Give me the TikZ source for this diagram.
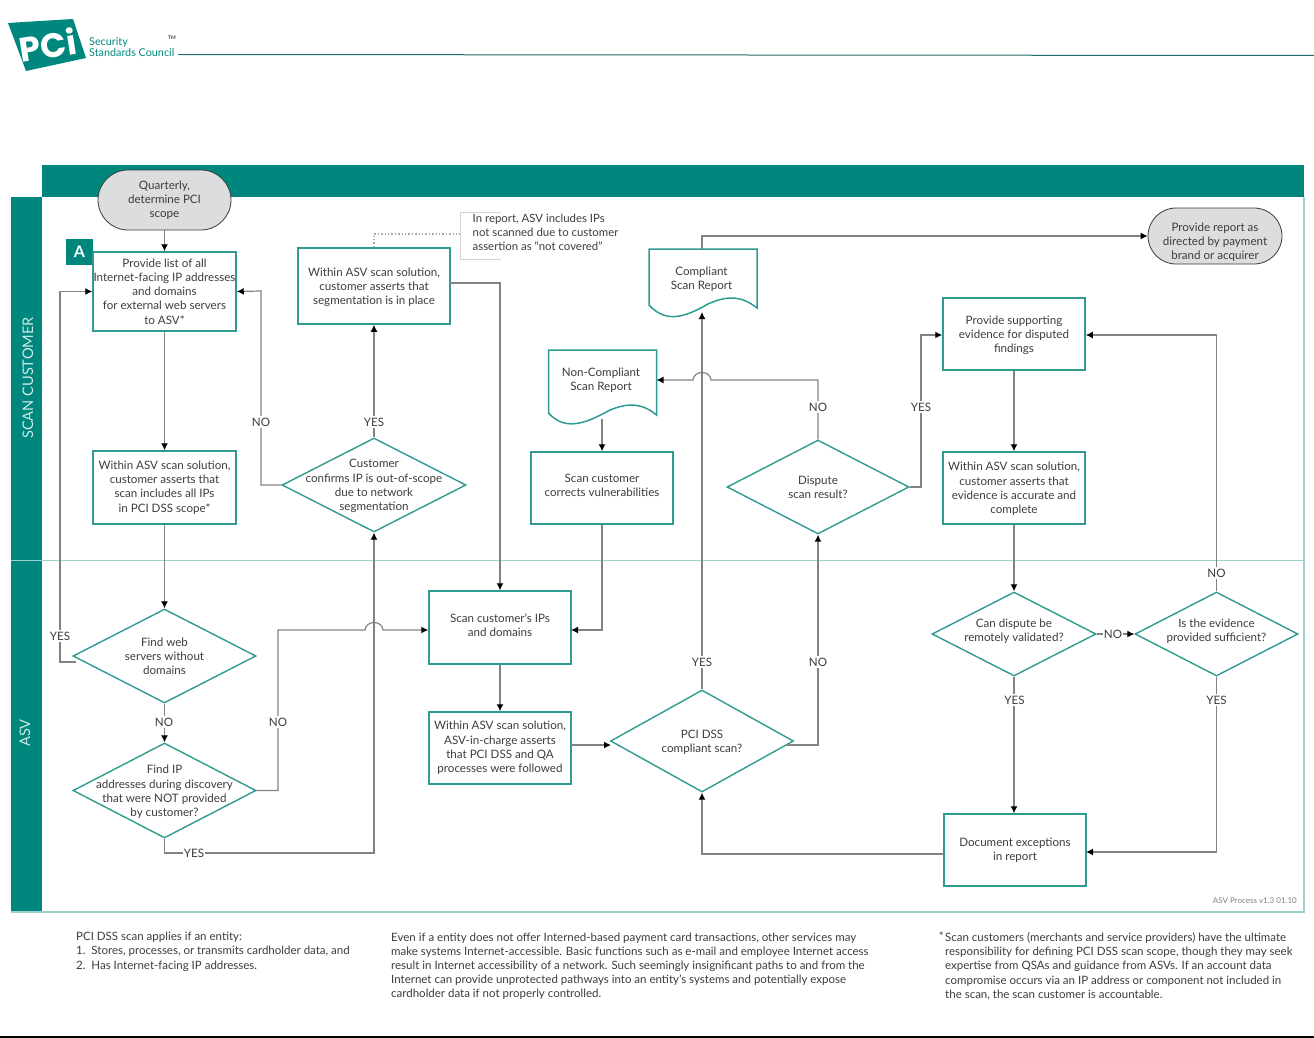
\documentclass[tikz,border=0pt]{standalone}
\usepackage{fontspec}
\setmainfont{Lato}
\newfontfamily\logofont{Poppins}
\usetikzlibrary{shapes.geometric,shapes.misc,calc,arrows.meta}
\definecolor{tealband}{HTML}{00877D}
\definecolor{boxline}{HTML}{2F9A92}
\definecolor{paleline}{HTML}{9AD3CD}
\definecolor{flow}{HTML}{828282}
\definecolor{ink}{HTML}{3C3C3C}
\definecolor{termfill}{HTML}{DCDDDE}
\tikzset{
  x=1pt,y=-1pt,
  every node/.style={font=\fontsize{11.6}{14.2}\selectfont,text=ink,align=center,inner sep=0pt},
  every label/.style={font=\fontsize{11.6}{14.2}\selectfont,text=ink,align=center,inner sep=0pt},
  stepbox/.style={draw=boxline,line width=1.5pt,rectangle},
  dia/.style={draw=boxline,line width=1.4pt,diamond,aspect=1.9,inner sep=0pt},
  term/.style={draw=ink,line width=.8pt,fill=termfill,rounded rectangle},
  flowline/.style={draw=flow,line width=1.2pt,-{Latex[length=7pt,width=7pt,black]}},
  yn/.style={fill=white,inner ysep=1.5pt,inner xsep=.5pt},
  docline/.style={draw=boxline,line width=1.5pt},
  footnote/.style={align=left,anchor=north west,font=\fontsize{11.5}{14.3}\selectfont},
}
\newcommand{\rbox}[7][0pt]{\node[stepbox,minimum width=#5-#4,minimum height=#7-#6,label={[yshift=#1]center:#3}] (#2) at ({(#4+#5)/2},{(#6+#7)/2}) {};}
\newcommand{\dbox}[7][0pt]{\node[dia,minimum width=#6,minimum height=#7,label={[yshift=#1]center:#3}] (#2) at (#4,#5) {};}
\begin{document}
\begin{tikzpicture}
\useasboundingbox (0,0) rectangle (1314,1038);
% header
\draw[boxline!70!black,line width=1pt] (178,54.5) -- (1314,55.5);
\fill[tealband] (8,23) -- (73,19) -- (86,58) -- (26,71) -- cycle;
\node[font=\logofont\bfseries\fontsize{34}{34}\selectfont,text=white,rotate=9] (logo) at (48,45) {PCi};
\node[font=\fontsize{10.8}{10.6}\selectfont,text=tealband,align=left,anchor=west] (brand) at (89,47) {Security\\Standards Council};
\node[font=\bfseries\fontsize{5}{5}\selectfont,text=ink] (tm) at (172,38) {TM};
% frame
\fill[tealband] (42,165) rectangle (1304,197);
\fill[tealband] (11,197) rectangle (42,912);
\draw[paleline,line width=1.4pt] (1304,197) -- (1304,912) -- (11,912);
\draw[paleline,line width=1pt] (11,560) -- (1304,560);
\node[rotate=90,font=\fontsize{14.6}{18}\selectfont,text=paleline!50!white] (lanea) at (28,378) {SCAN CUSTOMER};
\node[rotate=90,font=\fontsize{14.6}{18}\selectfont,text=paleline!50!white] (laneb) at (25,733) {ASV};
% A tag
\node[fill=tealband,text=white,font=\bfseries\fontsize{16}{16}\selectfont,minimum width=27,minimum height=26] (tag) at (79.5,252) {A};
% terminators
\node[term,minimum width=133,minimum height=60,label={[yshift=-.5pt]center:Quarterly,\\determine PCI\\scope}] (start) at (164.5,200) {};
\node[term,minimum width=134,minimum height=56,label={[yshift=-6pt]center:Provide report as\\directed by payment\\brand or acquirer}] (report) at (1215,236) {};
% boxes
\rbox{list}{Provide list of all\\Internet-facing IP addresses\\and domains\\for external web servers\\to ASV*}{93}{236}{252}{331}
\rbox{allip}{Within ASV scan solution,\\customer asserts that\\scan includes all IPs\\in PCI DSS scope*}{93}{236}{451}{524}
\rbox[-1pt]{seg}{Within ASV scan solution,\\customer asserts that\\segmentation is in place}{298}{450}{248}{324}
\rbox[2pt]{scan}{Scan customer's IPs\\and domains}{429}{571}{591}{664}
\rbox{charge}{Within ASV scan solution,\\ASV-in-charge asserts\\that PCI DSS and QA\\processes were followed}{429}{571}{712}{784}
\rbox[3pt]{correct}{Scan customer\\corrects vulnerabilities}{531}{673}{452}{524}
\rbox[-1pt]{support}{Provide supporting\\evidence for disputed\\findings}{943}{1085}{298}{370}
\rbox[-1pt]{accurate}{Within ASV scan solution,\\customer asserts that\\evidence is accurate and\\complete}{943}{1085}{452}{524}
\rbox{except}{Document exceptions\\in report}{944}{1086}{814}{886}
% diamonds
\dbox{web}{Find web\\servers without\\domains}{164.5}{656}{183}{94}
\dbox[-1.5pt]{found}{Find IP\\addresses during discovery\\that were NOT provided\\by customer?}{164.5}{790.5}{183}{95}
\dbox[-1pt]{confirm}{Customer\\confirms IP is out-of-scope\\due to network\\segmentation}{374}{485}{184}{94}
\dbox[-1.5pt]{compliant}{PCI DSS\\compliant scan?}{702}{741}{183}{102}
\dbox{dispute}{Dispute\\scan result?}{818}{487}{182}{94}
\dbox[3pt]{remote}{Can dispute be\\remotely validated?}{1014}{634}{164}{84}
\dbox[3pt]{enough}{Is the evidence\\provided sufficient?}{1216.5}{634}{163}{84}
% documents
\coordinate (oktop) at (702,249);
\coordinate (oktip) at (702,312);
\coordinate (badtip) at (602,419);
\coordinate (badright) at (656.5,380);
\draw[docline,fill=white] (649,305) -- (649,249) -- (757,249) -- (757,308) .. controls (742,296) and (728,295) .. (708,304) .. controls (690,314) and (668,326) .. (649,305) -- cycle;
\draw[docline,fill=white] (548.5,413) -- (548.5,350) -- (656.5,350) -- (656.5,415) .. controls (642,403) and (628,402) .. (608,411) .. controls (590,421) and (566,433) .. (548.5,413) -- cycle;
\node (oktext) at (701.5,279.5) {Compliant\\Scan Report};
\node (badtext) at (601,380.5) {Non-Compliant\\Scan Report};
% note
\node[align=left,anchor=north west,font=\fontsize{11.4}{14}\selectfont] (note) at (472.5,214) {In report, ASV includes IPs\\not scanned due to customer\\assertion as ``not covered''};
\coordinate (notel) at (460,234);
\draw[draw=termfill!90!gray,line width=1pt] (501,212) -- (460,212) -- (460,259) -- (501,259);
\draw[draw=flow!70!white,line width=1.4pt,dotted] (seg.north) |- (notel);
% connectors
\draw[flowline] (start) -- (list);
\draw[flowline] (list) -- (allip);
\draw[flowline] (allip) -- (web);
\draw[flowline] (web) -- (found);
\coordinate (wy) at (76,662);
\draw[flowline] (wy) -- (wy -| 60,0) |- (list.west);
\draw[flowline] (found.south) |- (374,853) -- (confirm.south);
\coordinate (hopa) at (374,630);
\draw[flowline] (found.east) -| (278,630) -- ($(hopa)+(-9,0)$) .. controls ($(hopa)+(-8,-10)$) and ($(hopa)+(8,-10)$) .. ($(hopa)+(9,0)$) -- (scan.west |- hopa);
\draw[flowline] (confirm.north) -- (seg.south);
\draw[flowline] (confirm.west) -| (261,291) -- (list.east);
\coordinate (segout) at (450,283);
\draw[flowline] (segout) -| (scan.north -| 500,0);
\draw[flowline] (scan) -- (charge);
\coordinate (scanin) at (571,630);
\draw[flowline] (correct.south) |- (scanin);
\coordinate (cin) at (571,745);
\draw[flowline] (cin) -- (cin -| 611,0);
\draw[flowline] (compliant.north) -- (oktip);
\draw[flowline] (oktop) |- (report.west);
\coordinate (cout) at (787,745);
\draw[flowline] (cout) -| (dispute.south);
\coordinate (hopb) at (702,380);
\draw[flowline] (dispute.north) |- ($(hopb)+(9,0)$) .. controls ($(hopb)+(8,-10)$) and ($(hopb)+(-8,-10)$) .. ($(hopb)+(-9,0)$) -- (badright);
\draw[flowline] (badtip) -- (correct.north);
\draw[flowline] (dispute.east) -| (921,335) -- (support.west |- 921,335);
\draw[flowline] (support) -- (accurate);
\draw[flowline] (accurate) -- (remote);
\draw[flowline] (remote) -- (except.north -| remote.south);
\draw[flowline] (remote) -- (enough);
\draw[flowline] (enough.north) |- (support.east |- 1216,335);
\coordinate (exin) at (1086,852);
\draw[flowline] (enough.south) |- (exin);
\coordinate (exout) at (944,854);
\draw[flowline] (exout) -| (compliant.south);
% labels
\node[yn] (l1) at (60,636) {YES};
\node[yn] (l2) at (164,722) {NO};
\node[yn] (l3) at (278,722) {NO};
\node[yn] (l4) at (194,853) {YES};
\node[yn] (l5) at (261,422) {NO};
\node[yn] (l6) at (374,422) {YES};
\node[yn] (l7) at (702,662) {YES};
\node[yn] (l8) at (818,662) {NO};
\node[yn] (l9) at (818,407) {NO};
\node[yn] (l10) at (921,407) {YES};
\node[yn] (l11) at (1014.5,700) {YES};
\node[yn] (l12) at (1113,634) {NO};
\node[yn] (l13) at (1216.5,700) {YES};
\node[yn] (l14) at (1216.5,573) {NO};
% footer
\node[anchor=east,font=\fontsize{8}{9}\selectfont,text=gray] (ver) at (1297,901) {ASV Process v1.3 01.10};
\node[footnote] (f1) at (76,932) {PCI DSS scan applies if an entity:\\1.\ \ Stores, processes, or transmits cardholder data, and\\2.\ \ Has Internet-facing IP addresses.};
\node[footnote,font=\fontsize{11.5}{13.9}\selectfont] (f2) at (391,933) {Even if a entity does not offer Interned-based payment card transactions, other services may\\make systems Internet-accessible. Basic functions such as e-mail and employee Internet access\\result in Internet accessibility of a network. Such seemingly insignificant paths to and from the\\Internet can provide unprotected pathways into an entity's systems and potentially expose\\cardholder data if not properly controlled.};
\node[footnote,anchor=north east] (f0) at (944,932) {*};
\node[footnote] (f3) at (945,932) {Scan customers (merchants and service providers) have the ultimate\\responsibility for defining PCI DSS scan scope, though they may seek\\expertise from QSAs and guidance from ASVs. If an account data\\compromise occurs via an IP address or component not included in\\the scan, the scan customer is accountable.};
\draw[black,line width=1.2pt] (0,1037) -- (1314,1037);
\end{tikzpicture}
\end{document}
